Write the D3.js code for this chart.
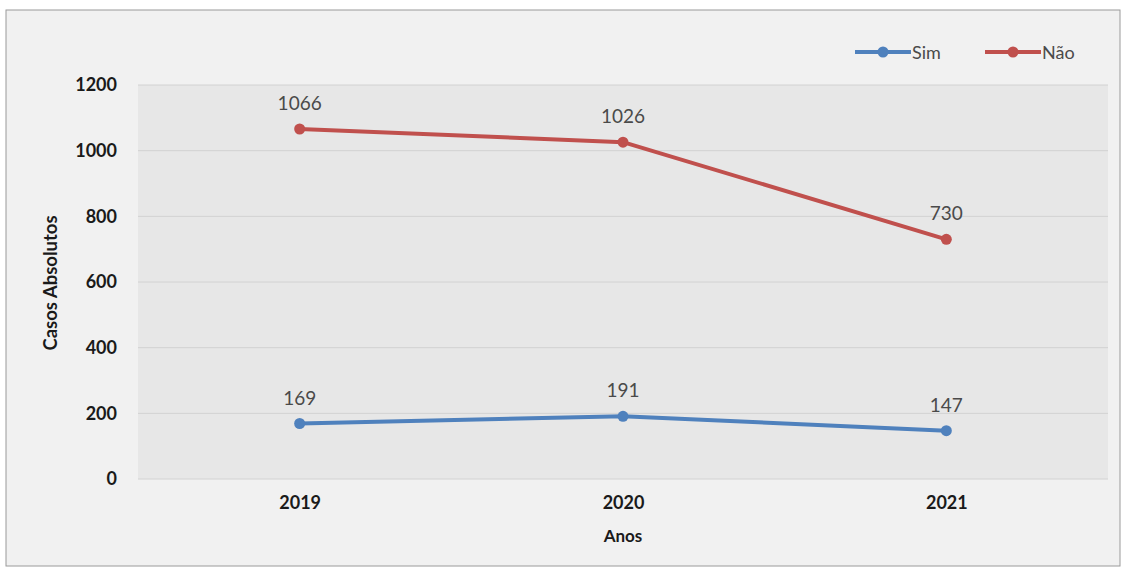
<!DOCTYPE html>
<html>
<head>
<meta charset="utf-8">
<script src="https://cdn.jsdelivr.net/npm/d3@7"></script>
<style>
	body { margin: 0; background: #ffffff; }
	text { font-family: Lato, "Liberation Sans", "DejaVu Sans", sans-serif; }
</style>
</head>
<body>
<div id="chart"></div>
<script>
// chart data
const years = ["2019", "2020", "2021"];
const sim = [169, 191, 147];
const nao = [1066, 1026, 730];
const yTicks = [0, 200, 400, 600, 800, 1000, 1200];

const width = 1126, height = 568;
const plot = { left: 138, top: 85, right: 1108, bottom: 479 };

const svg = d3.select("#chart").append("svg")
	.attr("width", width).attr("height", height);

// chart area
svg.append("rect")
	.attr("x", 6).attr("y", 10).attr("width", 1114).attr("height", 556)
	.attr("fill", "#f1f1f1").attr("stroke", "#9a9a9a").attr("stroke-width", 1);

svg.append("rect")
	.attr("x", plot.left).attr("y", plot.top)
	.attr("width", plot.right - plot.left).attr("height", plot.bottom - plot.top)
	.attr("fill", "#e7e7e7");

const x = d3.scalePoint().domain(years).range([plot.left, plot.right]).padding(0.5);
const y = d3.scaleLinear().domain([0, 1200]).range([plot.bottom, plot.top]);

// gridlines
svg.append("g").selectAll("line").data(yTicks).join("line")
	.attr("x1", plot.left).attr("x2", plot.right)
	.attr("y1", d => y(d)).attr("y2", d => y(d))
	.attr("stroke", "#d2d2d2").attr("stroke-width", 1);

// y axis
const yAxis = svg.append("g")
	.attr("transform", "translate(" + plot.left + ",0)")
	.call(d3.axisLeft(y).tickValues(yTicks).tickFormat(d3.format("d")).tickSize(0).tickPadding(21));
yAxis.select(".domain").remove();
yAxis.selectAll("text")
	.attr("font-size", 18).attr("font-weight", "bold").attr("fill", "#1a1a1a")
	.style("font-family", "Lato, 'Liberation Sans', sans-serif");

// x axis
const xAxis = svg.append("g")
	.attr("transform", "translate(0," + plot.bottom + ")")
	.call(d3.axisBottom(x).tickSize(0).tickPadding(17));
xAxis.select(".domain").remove();
xAxis.selectAll("text")
	.attr("font-size", 18).attr("font-weight", "bold").attr("fill", "#1a1a1a")
	.style("font-family", "Lato, 'Liberation Sans', sans-serif");

// axis titles
svg.append("text")
	.attr("x", x("2020")).attr("y", 542)
	.attr("text-anchor", "middle").attr("font-size", 17).attr("font-weight", "bold").attr("fill", "#1a1a1a")
	.text("Anos");

svg.append("text")
	.attr("transform", "translate(57,283) rotate(-90)")
	.attr("text-anchor", "middle").attr("font-size", 18.5).attr("font-weight", "bold").attr("fill", "#1a1a1a")
	.text("Casos Absolutos");

// series
const series = [
	{ name: "Sim", values: sim, color: "#4f81bd" },
	{ name: "Não", values: nao, color: "#c0504d" }
];

const line = d3.line().x((d, i) => x(years[i])).y(d => y(d));

series.forEach(s => {
	svg.append("path")
		.datum(s.values)
		.attr("d", line)
		.attr("fill", "none").attr("stroke", s.color)
		.attr("stroke-width", 4).attr("stroke-linejoin", "round");

	svg.append("g").selectAll("circle").data(s.values).join("circle")
		.attr("cx", (d, i) => x(years[i])).attr("cy", d => y(d))
		.attr("r", 5.5).attr("fill", s.color);

	svg.append("g").selectAll("text").data(s.values).join("text")
		.attr("x", (d, i) => x(years[i])).attr("y", d => y(d) - 19)
		.attr("text-anchor", "middle").attr("font-size", 19).attr("fill", "#4a4a4a")
		.text(d => d);
});

// legend
const legend = svg.append("g");
const legendX = [855, 985];
series.forEach((s, i) => {
	const g = legend.append("g").attr("transform", "translate(" + legendX[i] + ",52)");
	g.append("line").attr("x1", 0).attr("x2", 56).attr("y1", 0).attr("y2", 0)
		.attr("stroke", s.color).attr("stroke-width", 4);
	g.append("circle").attr("cx", 28).attr("cy", 0).attr("r", 5.5).attr("fill", s.color);
	g.append("text").attr("x", 57).attr("y", 7)
		.attr("font-size", 18).attr("fill", "#4a4a4a").text(s.name);
});
</script>
</body>
</html>
